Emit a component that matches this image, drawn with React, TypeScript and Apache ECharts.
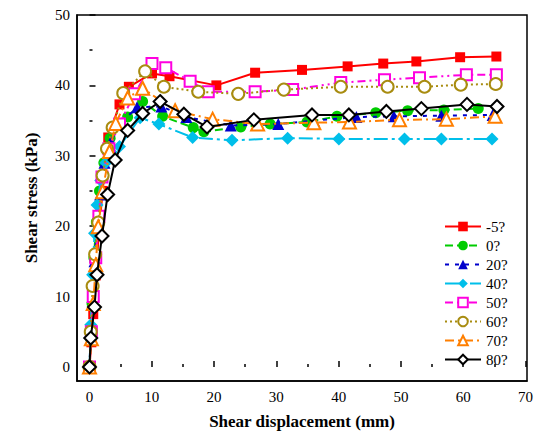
import React, { useEffect, useRef } from "react";
import * as echarts from "echarts";

const seriesNames = ["-5?", "0?", "20?", "40?", "50?", "60?", "70?", "80?"];

const xM5 = [0, 0.3, 0.6, 1.0, 1.5, 2.1, 3.0, 4.8, 6.3, 10.0, 12.8, 20.3, 26.5, 34.0, 41.3, 47.0, 52.3, 59.3, 65.1];
const yM5 = [0, 3.5, 7.5, 13, 19, 25, 32.6, 37.3, 39.8, 41.7, 41.3, 40.0, 41.8, 42.2, 42.7, 43.1, 43.4, 44.0, 44.1];

const x0 = [0, 0.2, 0.4, 0.7, 1.1, 1.6, 2.3, 3.3, 4.5, 6.1, 8.5, 11.7, 16.6, 18.3, 24.2, 28.9, 34.8, 39.6, 45.8, 50.9, 56.7, 62.2];
const y0 = [0, 4, 9, 15.5, 20.6, 25, 29, 32.5, 34.5, 35.5, 37.7, 35.6, 34.0, 33.4, 34.1, 34.5, 34.8, 35.6, 36.1, 36.4, 36.5, 36.7];

const x20 = [0, 0.2, 0.5, 0.8, 1.2, 1.7, 2.4, 3.4, 4.8, 7.6, 11.5, 15.5, 22.6, 30.2, 35.9, 42.7, 48.7, 56.3, 64.5];
const y20 = [0, 5, 10, 15, 20, 24.5, 29, 32, 34.5, 36.9, 37.0, 35.5, 34.3, 34.5, 35.0, 35.5, 35.6, 35.7, 35.8];

const x40 = [0, 0.2, 0.5, 0.8, 1.2, 1.8, 2.6, 3.5, 4.8, 8.1, 11.1, 16.5, 22.8, 31.7, 39.9, 50.4, 56.3, 64.4];
const y40 = [0, 6, 13.1, 19, 23, 26.5, 29, 30.5, 31.3, 35.4, 34.5, 32.6, 32.2, 32.5, 32.4, 32.4, 32.4, 32.4];

const x50 = [0, 0.3, 0.6, 1.0, 1.5, 2.0, 3.1, 4.8, 7.2, 10.0, 12.2, 16.1, 19.0, 26.5, 32.5, 40.2, 47.2, 52.8, 60.3, 65.1];
const y50 = [0, 5, 10, 15.5, 21.4, 27, 31, 34.5, 38.8, 43.1, 42.5, 40.6, 39.1, 39.1, 39.4, 40.4, 40.8, 41.1, 41.5, 41.5];

const x60 = [0, 0.2, 0.5, 0.9, 1.4, 2.1, 2.8, 3.7, 5.4, 8.9, 11.9, 17.4, 23.8, 31.1, 40.2, 47.7, 53.6, 59.4, 65.0];
const y60 = [0, 5, 11.5, 16, 20.5, 27.2, 31, 34, 38.9, 42, 39.8, 39.1, 38.8, 39.4, 39.8, 39.8, 39.8, 40.1, 40.2];

const x70 = [0, 0.3, 0.6, 1.0, 1.4, 2.1, 3.2, 4.2, 6.1, 8.5, 13.7, 19.7, 26.9, 35.9, 41.6, 49.6, 57.1, 64.9];
const y70 = [0, 4, 9, 14.5, 19.9, 24.9, 30.6, 34.6, 38.2, 39.6, 36.4, 35.2, 34.5, 34.7, 34.8, 35.1, 35.2, 35.6];

const x80 = [0, 0.2, 0.8, 1.2, 2.0, 2.9, 4.1, 6.1, 8.5, 11.3, 15.1, 18.8, 26.3, 35.6, 41.5, 47.5, 53.1, 60.4, 65.2];
const y80 = [0, 4.1, 8.5, 13.1, 18.6, 24.5, 29.4, 33.6, 36.0, 37.7, 35.9, 34.1, 35.1, 35.8, 35.8, 36.3, 36.7, 37.3, 37.0];

const xs = [xM5, x0, x20, x40, x50, x60, x70, x80];
const ys = [yM5, y0, y20, y40, y50, y60, y70, y80];

const colors = ["#FF0000", "#00CC00", "#0000CC", "#00BFEA", "#FF00E0", "#A88C10", "#FF7F00", "#000000"];
const symbols = ["rect", "circle", "triangle", "diamond", "emptyRect", "emptyCircle", "emptyTriangle", "emptyDiamond"];
const symbolSizes = [10, 11, 12, 13, 11, 12, 13, 13];
const dashes: any[] = [
  "solid",
  [8, 4],
  [4, 6],
  [14, 4, 3, 4],
  [8, 4, 2, 4, 2, 4],
  [2, 3],
  [9, 4, 2, 4],
  "solid",
];

const FONT = "'Liberation Serif', 'Times New Roman', serif";

const W = 536;
const H = 435;
const L = 77;
const R = 9;
const T = 15;
const B = 54;
const X_MIN = -2;
const X_MAX = 70;
const Y_MIN = -2;
const Y_MAX = 50;

export default function App() {
  const ref = useRef<HTMLDivElement>(null);
  useEffect(() => {
    document.body.style.margin = "0";
    const chart = echarts.init(ref.current!, null, { renderer: "svg" });
    const pxX = (W - L - R) / (X_MAX - X_MIN);
    const pxY = (H - T - B) / (Y_MAX - Y_MIN);
    const offX = (0 - X_MIN) * pxX;
    const offY = (0 - Y_MIN) * pxY;

    const series = seriesNames.map((name, i) => ({
      name,
      type: "line",
      xAxisIndex: 0,
      yAxisIndex: 0,
      data: xs[i].map((x, j) => [x, ys[i][j]]),
      symbol: symbols[i],
      symbolSize: symbolSizes[i],
      showAllSymbol: true,
      color: colors[i],
      lineStyle: { color: colors[i], width: 2, type: dashes[i] },
      itemStyle: {
        color: colors[i],
        borderColor: colors[i],
        borderWidth: symbols[i].startsWith("empty") ? 1.6 : 0,
      },
      z: 2 + i,
    }));

    const tickAxisCommon = {
      type: "value",
      interval: 10,
      axisLine: { show: false },
      axisTick: { show: true, inside: true, length: 6, lineStyle: { color: "#000", width: 1.5 } },
      minorTick: { show: true, splitNumber: 2, length: 3, lineStyle: { color: "#000", width: 1.5 } },
      axisLabel: {
        fontFamily: FONT,
        fontSize: 15,
        color: "#000",
      },
      splitLine: { show: false },
      minorSplitLine: { show: false },
    };

    chart.setOption({
      animation: false,
      backgroundColor: "#fff",
      grid: [
        {
          left: L,
          right: R,
          top: T,
          bottom: B,
          show: true,
          borderColor: "#000",
          borderWidth: 1.5,
          backgroundColor: "transparent",
        },
        {
          left: L + offX,
          right: R,
          top: T,
          bottom: B + offY,
          show: false,
        },
      ],
      legend: {
        orient: "vertical",
        left: 439,
        top: 214,
        itemWidth: 36,
        itemHeight: 12,
        itemGap: 4,
        data: seriesNames,
        textStyle: {
          fontFamily: FONT,
          fontSize: 15,
          color: "#000",
        },
      },
      xAxis: [
        {
          type: "value",
          gridIndex: 0,
          min: X_MIN,
          max: X_MAX,
          name: "Shear displacement (mm)",
          nameLocation: "middle",
          nameGap: 32,
          nameTextStyle: { fontFamily: FONT, fontSize: 17, fontWeight: "bold", color: "#000" },
          axisLine: { show: true, onZero: false, lineStyle: { color: "#000", width: 1.5 } },
          axisTick: { show: false },
          axisLabel: { show: false },
          splitLine: { show: false },
        },
        {
          ...tickAxisCommon,
          gridIndex: 1,
          min: 0,
          max: X_MAX,
          position: "bottom",
          offset: offY,
          axisLabel: { ...tickAxisCommon.axisLabel, margin: 8 },
        },
      ],
      yAxis: [
        {
          type: "value",
          gridIndex: 0,
          min: Y_MIN,
          max: Y_MAX,
          name: "Shear stress (kPa)",
          nameLocation: "middle",
          nameGap: 37,
          nameTextStyle: { fontFamily: FONT, fontSize: 17, fontWeight: "bold", color: "#000" },
          axisLine: { show: true, onZero: false, lineStyle: { color: "#000", width: 1.5 } },
          axisTick: { show: false },
          axisLabel: { show: false },
          splitLine: { show: false },
        },
        {
          ...tickAxisCommon,
          gridIndex: 1,
          min: 0,
          max: Y_MAX,
          position: "left",
          offset: offX,
          axisLabel: { ...tickAxisCommon.axisLabel, margin: 7 },
        },
      ],
      series,
    });
    return () => chart.dispose();
  }, []);
  return <div ref={ref} style={{ width: W, height: H }} />;
}
